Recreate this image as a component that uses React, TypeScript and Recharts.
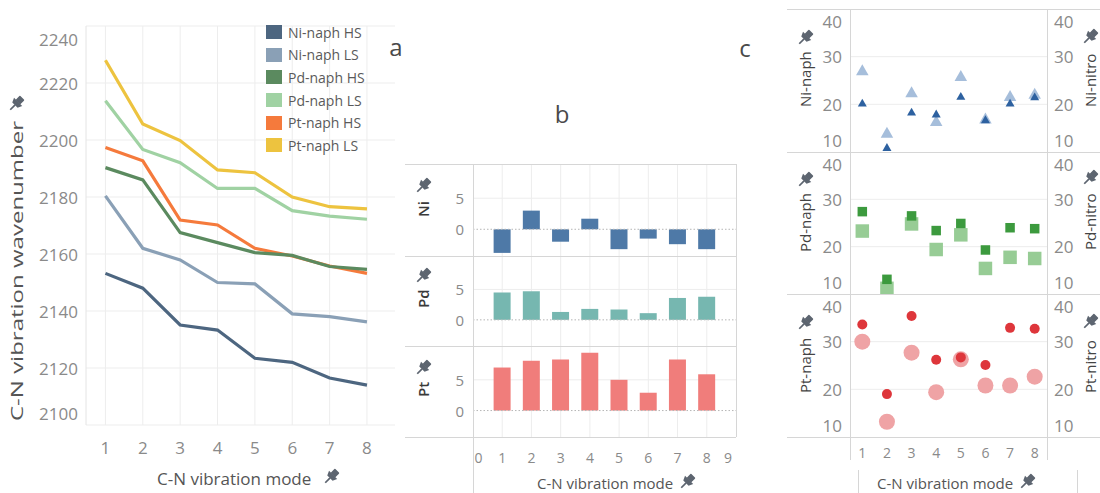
import React from 'react';
import {
  LineChart, Line, XAxis, YAxis, CartesianGrid, Legend,
  BarChart, Bar, ReferenceLine, ScatterChart, Scatter,
} from 'recharts';

// ---------- data ----------
const modes = [1, 2, 3, 4, 5, 6, 7, 8];

// panel a: C-N vibration wavenumber
const niNaphHS = [2153.2, 2148, 2135.1, 2133.3, 2123.4, 2122, 2116.5, 2114];
const niNaphLS = [2180.4, 2162, 2157.9, 2150, 2149.5, 2139, 2138, 2136.2];
const pdNaphHS = [2190.3, 2186, 2167.5, 2164, 2160.5, 2159.5, 2155.6, 2154.6];
const pdNaphLS = [2213.8, 2196.7, 2192, 2183, 2183, 2175.2, 2173.3, 2172.2];
const ptNaphHS = [2197.4, 2192.7, 2171.9, 2170.2, 2162, 2159.3, 2155.8, 2153.2];
const ptNaphLS = [2228, 2205.6, 2199.8, 2189.5, 2188.5, 2180, 2176.6, 2175.8];
const wavenumberTicks = [2100, 2120, 2140, 2160, 2180, 2200, 2220, 2240];

// panel b: differences per metal
const niDiff = [-3.8, 3.0, -2.0, 1.7, -3.2, -1.5, -2.4, -3.2];
const pdDiff = [4.5, 4.7, 1.3, 1.8, 1.7, 1.1, 3.6, 3.8];
const ptDiff = [7.0, 8.1, 8.3, 9.4, 5.0, 2.9, 8.3, 5.9];
const diffTicks = [0, 5];
const modeTicksB = [0, 1, 2, 3, 4, 5, 6, 7, 8, 9];

// panel c: naph vs nitro
const niNaph = [20.2, 10.9, 18.3, 17.9, 21.6, 16.7, 20.2, 21.5];
const niNitro = [27.0, 13.9, 22.4, 16.4, 25.8, 16.9, 21.6, 22.1];
const pdNaph = [27.4, 13.1, 26.5, 23.4, 24.9, 19.3, 24.0, 23.8];
const pdNitro = [23.3, 11.2, 24.8, 19.4, 22.5, 15.4, 17.75, 17.5];
const ptNaph = [33.6, 19.0, 35.4, 26.2, 26.7, 25.1, 32.9, 32.7];
const ptNitro = [30.0, 13.2, 27.7, 19.4, 26.3, 20.8, 20.8, 22.65];
const scoreTicks = [10, 20, 30, 40];

// ---------- styles ----------
const FONT = '"Open Sans", "Noto Sans", sans-serif';
const TICK = '#8a8a8a';
const TITLE = '#555555';
const FRAME = '#d6d6d6';
const GRID = '#ededed';
const PIN_COLOR = '#5d6570';

const lineSeries = [
  { name: 'Ni-naph HS', values: niNaphHS, color: '#4d6680' },
  { name: 'Ni-naph LS', values: niNaphLS, color: '#8aa0b6' },
  { name: 'Pd-naph HS', values: pdNaphHS, color: '#5b8a5f' },
  { name: 'Pd-naph LS', values: pdNaphLS, color: '#a0d2a3' },
  { name: 'Pt-naph HS', values: ptNaphHS, color: '#f57a3c' },
  { name: 'Pt-naph LS', values: ptNaphLS, color: '#edc33f' },
];
const legendOrder = lineSeries.map((s) => s.name);
const drawOrder = ['Ni-naph HS', 'Ni-naph LS', 'Pt-naph LS', 'Pd-naph LS', 'Pt-naph HS', 'Pd-naph HS'];

const lineData = modes.map((m, i) => {
  const row: any = { mode: m };
  lineSeries.forEach((s) => { row[s.name] = s.values[i]; });
  return row;
});

const toRows = (arr: number[]) => modes.map((m, i) => ({ mode: m, v: arr[i] }));

// ---------- small helpers ----------
function Pin({ x, y }: { x: number; y: number }) {
  return (
    <g transform={`translate(${x},${y}) rotate(45) scale(1.25)`} fill={PIN_COLOR}>
      <rect x={-2.6} y={-7} width={5.2} height={5} rx={0.6} />
      <path d="M-4.6,-2.4 L4.6,-2.4 L3,1.2 L-3,1.2 Z" />
      <rect x={-0.7} y={1} width={1.4} height={5.5} />
    </g>
  );
}

function VTitle({ x, yStart, pinY, text, size = 15, weight = 400, color = TITLE, len }: any) {
  return (
    <g>
      <text
        x={x} y={yStart} transform={`rotate(-90 ${x} ${yStart})`}
        textAnchor="start" dominantBaseline="central"
        fontSize={size} fontWeight={weight} fill={color} fontFamily={FONT}
        {...(len ? { textLength: len, lengthAdjust: 'spacingAndGlyphs' } : {})}
      >{text}</text>
      <Pin x={x} y={pinY} />
    </g>
  );
}

function HTitle({ x, y, pinX, text, size = 15 }: any) {
  return (
    <g>
      <text x={x} y={y} textAnchor="start" dominantBaseline="central" fontSize={size} fill={TITLE} fontFamily={FONT}>{text}</text>
      <Pin x={pinX} y={y - 1} />
    </g>
  );
}

// ---------- panel a ----------
function PanelA() {
  const yTick = (p: any) => {
    const v = p.payload.value;
    const dy = v === 2240 ? 13 : v === 2100 ? -12 : 0;
    return (
      <text x={p.x - 8} y={p.y + dy} textAnchor="end" dominantBaseline="central" fontSize={17} fill={TICK} fontFamily={FONT}>{v}</text>
    );
  };
  const xTick = (p: any) => (
    <text x={p.x} y={p.y + 22} textAnchor="middle" dominantBaseline="central" fontSize={17} fill={TICK} fontFamily={FONT}>{p.payload.value}</text>
  );
  const legendContent = (props: any) => {
    const items = [...(props.payload || [])].sort(
      (a: any, b: any) => legendOrder.indexOf(a.value) - legendOrder.indexOf(b.value)
    );
    return (
      <div style={{ fontFamily: FONT }}>
        {items.map((e: any) => (
          <div key={e.value} style={{ display: 'flex', alignItems: 'center', height: 22.6 }}>
            <span style={{ display: 'inline-block', width: 16, height: 14, background: e.color, marginRight: 6 }} />
            <span style={{ fontSize: 14, color: '#5a5a5a', whiteSpace: 'nowrap' }}>{e.value}</span>
          </div>
        ))}
      </div>
    );
  };
  const byName: any = {};
  lineSeries.forEach((s) => { byName[s.name] = s; });
  return (
    <div style={{ position: 'absolute', left: 0, top: 0 }}>
      <LineChart width={400} height={493} data={lineData} margin={{ top: 26, right: 5, bottom: 0, left: 0 }}>
        <CartesianGrid stroke={GRID} horizontalValues={wavenumberTicks} verticalValues={modes} />
        <XAxis type="number" dataKey="mode" domain={[0.48, 8.75]} ticks={modes} interval={0}
          allowDataOverflow axisLine={false} tickLine={false} tickSize={0} tickMargin={0} height={68} tick={xTick} />
        <YAxis type="number" domain={[2100, 2240]} ticks={wavenumberTicks} interval={0} allowDataOverflow
          width={86} axisLine={{ stroke: '#e4e4e4' }} tickLine={false} tickSize={0} tickMargin={0} tick={yTick} />
        <Legend layout="vertical" align="center" verticalAlign="middle" content={legendContent}
          wrapperStyle={{ left: 266, top: 21, width: 130, height: 140 }} />
        {drawOrder.map((n) => (
          <Line key={n} type="linear" dataKey={n} name={n} stroke={byName[n].color} strokeWidth={3.2}
            dot={false} activeDot={false} isAnimationActive={false} />
        ))}
      </LineChart>
    </div>
  );
}

// ---------- panel b ----------
const barRows = [
  { key: 'Ni', data: niDiff, color: '#4e79a7', top: 164, h: 92 },
  { key: 'Pd', data: pdDiff, color: '#76b7b0', top: 256, h: 90 },
  { key: 'Pt', data: ptDiff, color: '#f07d7b', top: 346, h: 91 },
];

function BarRow({ row, last }: any) {
  const yTick = (p: any) => (
    <text x={p.x - 9} y={p.y} textAnchor="end" dominantBaseline="central" fontSize={15} fill={TICK} fontFamily={FONT}>{p.payload.value}</text>
  );
  const xTick = (p: any) => {
    const v = p.payload.value;
    const dx = v === 0 ? 5.5 : v === 9 ? -8 : 0;
    return (
      <text x={p.x + dx} y={p.y + 20} textAnchor="middle" dominantBaseline="central" fontSize={14} fill={TICK} fontFamily={FONT}>{v}</text>
    );
  };
  const xh = last ? 40 : 0;
  return (
    <div style={{ position: 'absolute', left: 380, top: row.top }}>
      <BarChart width={360} height={row.h + xh} data={toRows(row.data)} margin={{ top: 0, right: 4, bottom: 0, left: 0 }}>
        <CartesianGrid stroke={GRID} horizontalValues={[5]} verticalValues={modes} />
        <XAxis type="number" dataKey="mode" domain={[0, 9]} ticks={modeTicksB} interval={0} allowDataOverflow
          hide={!last} height={xh} axisLine={false} tickLine={false} tickSize={0} tickMargin={0} tick={xTick} />
        <YAxis type="number" domain={[-4.3, 10.5]} ticks={diffTicks} interval={0} allowDataOverflow
          width={93} axisLine={false} tickLine={false} tickSize={0} tickMargin={0} tick={yTick} />
        <ReferenceLine y={0} stroke="#b5b5b5" strokeDasharray="1.5 2" />
        <Bar dataKey="v" fill={row.color} barSize={17} isAnimationActive={false} />
      </BarChart>
    </div>
  );
}

// ---------- panel c ----------
function TriangleMark({ cx, cy, w, fill }: any) {
  const h = w * 0.88;
  return <path d={`M${cx},${cy - h * 0.6} L${cx + w / 2},${cy + h * 0.4} L${cx - w / 2},${cy + h * 0.4} Z`} fill={fill} />;
}
function SquareMark({ cx, cy, w, fill }: any) {
  return <rect x={cx - w / 2} y={cy - w / 2} width={w} height={w} fill={fill} />;
}
function CircleMark({ cx, cy, w, fill }: any) {
  return <circle cx={cx} cy={cy} r={w / 2} fill={fill} />;
}

const scatterRows = [
  { key: 'Ni', naph: niNaph, nitro: niNitro, dark: '#2d61a0', light: '#a6bedb', Mark: TriangleMark, wd: 9, wl: 12.5, top: 9, h: 143 },
  { key: 'Pd', naph: pdNaph, nitro: pdNitro, dark: '#3c9a3e', light: '#97cc95', Mark: SquareMark, wd: 9.5, wl: 13.5, top: 152, h: 142 },
  { key: 'Pt', naph: ptNaph, nitro: ptNitro, dark: '#de363b', light: '#efa3a5', Mark: CircleMark, wd: 10, wl: 16, top: 294, h: 143 },
];

function ScatterRow({ row, last }: any) {
  const edge = (v: number) => (v === 40 ? 12.5 : v === 10 ? -11.5 : 0);
  const lTick = (p: any) => (
    <text x={p.x - 8} y={p.y + edge(p.payload.value)} textAnchor="end" dominantBaseline="central" fontSize={17} fill={TICK} fontFamily={FONT}>{p.payload.value}</text>
  );
  const rTick = (p: any) => (
    <text x={p.x + 7} y={p.y + edge(p.payload.value)} textAnchor="start" dominantBaseline="central" fontSize={17} fill={TICK} fontFamily={FONT}>{p.payload.value}</text>
  );
  const xTick = (p: any) => (
    <text x={p.x} y={p.y + 15} textAnchor="middle" dominantBaseline="central" fontSize={14} fill={TICK} fontFamily={FONT}>{p.payload.value}</text>
  );
  const xh = last ? 40 : 0;
  const Mark = row.Mark;
  return (
    <div style={{ position: 'absolute', left: 780, top: row.top }}>
      <ScatterChart width={320} height={row.h + xh} margin={{ top: 0, right: 0, bottom: 0, left: 0 }}>
        <CartesianGrid stroke={GRID} yAxisId="l" horizontalValues={[20, 30]} vertical={false} />
        <XAxis type="number" dataKey="mode" domain={[0.5, 8.5]} ticks={modes} interval={0} allowDataOverflow
          hide={!last} height={xh} axisLine={false} tickLine={false} tickSize={0} tickMargin={0} tick={xTick} />
        <YAxis yAxisId="l" orientation="left" type="number" dataKey="v" domain={[10, 40]} ticks={scoreTicks} interval={0}
          allowDataOverflow width={70} axisLine={false} tickLine={false} tickSize={0} tickMargin={0} tick={lTick} />
        <YAxis yAxisId="r" orientation="right" type="number" dataKey="v" domain={[10, 40]} ticks={scoreTicks} interval={0}
          allowDataOverflow width={53} axisLine={false} tickLine={false} tickSize={0} tickMargin={0} tick={rTick} />
        <Scatter yAxisId="r" data={toRows(row.nitro)} isAnimationActive={false}
          shape={(p: any) => <Mark cx={p.cx} cy={p.cy} w={row.wl} fill={row.light} />} />
        <Scatter yAxisId="l" data={toRows(row.naph)} isAnimationActive={false}
          shape={(p: any) => <Mark cx={p.cx} cy={p.cy} w={row.wd} fill={row.dark} />} />
      </ScatterChart>
    </div>
  );
}

// ---------- overlay (frames, titles) ----------
function Overlay() {
  const L = (x1: number, y1: number, x2: number, y2: number, k: string) => (
    <line key={k} x1={x1} y1={y1} x2={x2} y2={y2} stroke={FRAME} strokeWidth={1} />
  );
  return (
    <svg width={1100} height={493} style={{ position: 'absolute', left: 0, top: 0, pointerEvents: 'none' }}>
      {/* panel b frame */}
      {[164, 256, 346, 437].map((y) => L(405, y + 0.5, 736, y + 0.5, 'bh' + y))}
      {L(473.5, 164, 473.5, 493, 'bv1')}
      {L(736.5, 164, 736.5, 437, 'bv2')}
      {/* panel c frame */}
      {[9, 152, 294, 437].map((y) => L(787, y + 0.5, 1100, y + 0.5, 'ch' + y))}
      {L(850.5, 9, 850.5, 460, 'cv1')}
      {L(1047.5, 9, 1047.5, 460, 'cv2')}
      {L(858.5, 470, 858.5, 493, 'cv3')}
      {L(1077.5, 470, 1077.5, 493, 'cv4')}

      {/* panel letters */}
      <text x={396} y={46} textAnchor="middle" dominantBaseline="central" fontSize={24} fill="#4a4a4a" fontFamily={FONT}>a</text>
      <text x={562} y={113} textAnchor="middle" dominantBaseline="central" fontSize={24} fill="#4a4a4a" fontFamily={FONT}>b</text>
      <text x={745} y={47} textAnchor="middle" dominantBaseline="central" fontSize={24} fill="#4a4a4a" fontFamily={FONT}>c</text>

      {/* panel a titles */}
      <VTitle x={16} yStart={421} pinY={104} text="C-N vibration wavenumber" size={17} len={300} />
      <HTitle x={157} y={478} pinX={331} text="C-N vibration mode" size={17} />

      {/* panel b titles */}
      <VTitle x={423} yStart={217} pinY={186} text="Ni" size={15} weight={600} color="#3a3a3a" />
      <VTitle x={423} yStart={308} pinY={276} text="Pd" size={15} weight={600} color="#3a3a3a" />
      <VTitle x={423} yStart={397} pinY={368} text="Pt" size={15} weight={600} color="#3a3a3a" />
      <HTitle x={537} y={483} pinX={687} text="C-N vibration mode" size={15} />

      {/* panel c titles */}
      <VTitle x={805} yStart={107} pinY={38} text="Ni-naph" size={15} color="#444" />
      <VTitle x={805} yStart={252} pinY={180} text="Pd-naph" size={15} color="#444" />
      <VTitle x={805} yStart={393} pinY={323} text="Pt-naph" size={15} color="#444" />
      <VTitle x={1090} yStart={107} pinY={37} text="Ni-nitro" size={15} color="#444" />
      <VTitle x={1090} yStart={250} pinY={178} text="Pd-nitro" size={15} color="#444" />
      <VTitle x={1090} yStart={393} pinY={322} text="Pt-nitro" size={15} color="#444" />
      <HTitle x={877} y={483} pinX={1027} text="C-N vibration mode" size={15} />
    </svg>
  );
}

export default function App() {
  return (
    <div style={{ position: 'absolute', left: 0, top: 0, width: 1100, height: 493, background: '#fff', fontFamily: FONT, overflow: 'hidden' }}>
      <PanelA />
      {barRows.map((r, i) => <BarRow key={r.key} row={r} last={i === barRows.length - 1} />)}
      {scatterRows.map((r, i) => <ScatterRow key={r.key} row={r} last={i === scatterRows.length - 1} />)}
      <Overlay />
    </div>
  );
}
